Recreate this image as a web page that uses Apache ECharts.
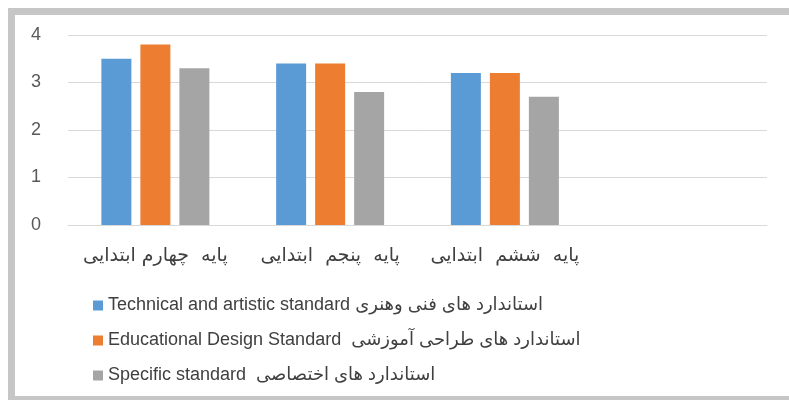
<!DOCTYPE html>
<html>
<head>
<meta charset="utf-8">
<script src="https://cdn.jsdelivr.net/npm/echarts@6/dist/echarts.min.js"></script>
<style>
  html, body { margin: 0; padding: 0; background: #fff; }
  #chart { width: 789px; height: 400px; }
</style>
</head>
<body>
<div id="chart"></div>
<script>
// grades (last slot left empty like the original sheet)
var categories = ['پایه  چهارم ابتدایی', 'پایه  پنجم  ابتدایی', 'پایه  ششم  ابتدایی', ''];
var seriesNames = [
  'Technical and artistic standard استاندارد های فنی وهنری',
  'Educational Design Standard  استاندارد های طراحی آموزشی',
  'Specific standard  استاندارد های اختصاصی'
];
var technical = [3.5, 3.4, 3.2, '-'];
var educational = [3.8, 3.4, 3.2, '-'];
var specific = [3.3, 2.8, 2.7, '-'];
var colors = ['#5b9bd5', '#ed7d31', '#a5a5a5'];

var chart = echarts.init(document.getElementById('chart'));

function bar(name, data, color) {
  return {
    name: name,
    type: 'bar',
    data: data,
    barWidth: 30,
    barGap: '30%',
    itemStyle: { color: color },
    emphasis: { disabled: true }
  };
}

chart.setOption({
  animation: false,
  color: colors,
  grid: { left: 68, right: 22, top: 35, bottom: 175 },
  xAxis: {
    type: 'category',
    data: categories,
    axisLine: { lineStyle: { color: '#d9d9d9' } },
    axisTick: { show: false },
    axisLabel: {
      interval: 0,
      hideOverlap: false,
      color: '#404040',
      fontSize: 19,
      margin: 22,
      fontFamily: 'DejaVu Sans'
    }
  },
  yAxis: {
    type: 'value',
    min: 0,
    max: 4,
    interval: 1,
    axisLine: { show: false },
    axisTick: { show: false },
    splitLine: { lineStyle: { color: '#d9d9d9' } },
    axisLabel: {
      color: '#595959',
      fontSize: 18,
      margin: 27,
      fontFamily: 'Liberation Sans'
    }
  },
  legend: {
    orient: 'vertical',
    left: 88,
    top: 290,
    itemWidth: 10,
    itemHeight: 10,
    itemGap: 14,
    icon: 'rect',
    textStyle: {
      color: '#404040',
      fontSize: 18,
      lineHeight: 21,
      fontFamily: 'Liberation Sans, DejaVu Sans'
    },
    data: seriesNames
  },
  // frame around the picture
  graphic: [
    { type: 'rect', left: 8, top: 8, shape: { width: 781, height: 7 }, style: { fill: '#c6c6c6' }, silent: true },
    { type: 'rect', left: 8, top: 8, shape: { width: 7, height: 392 }, style: { fill: '#c6c6c6' }, silent: true },
    { type: 'rect', left: 8, top: 396, shape: { width: 781, height: 4 }, style: { fill: '#c6c6c6' }, silent: true }
  ],
  series: [
    bar(seriesNames[0], technical, colors[0]),
    bar(seriesNames[1], educational, colors[1]),
    bar(seriesNames[2], specific, colors[2])
  ]
});
</script>
</body>
</html>
